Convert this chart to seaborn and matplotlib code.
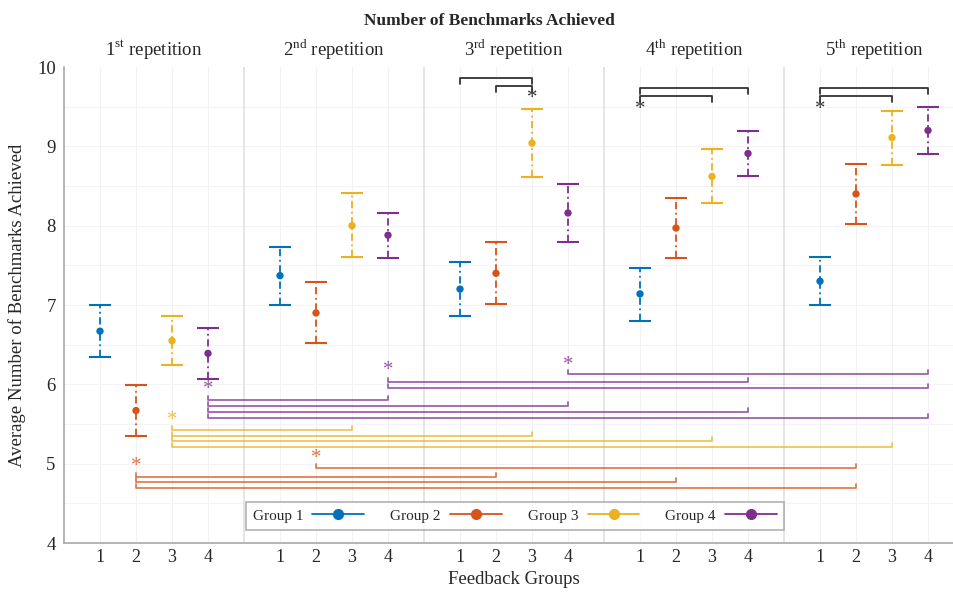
"""
Number of benchmarks achieved per feedback group over five repetitions
"""

import matplotlib
matplotlib.use("Agg")
import matplotlib.pyplot as plt
from matplotlib.lines import Line2D
import numpy as np
import pandas as pd
import seaborn as sns

sns.set_theme(style="white")
plt.rcParams["font.family"] = ["Liberation Serif", "DejaVu Serif"]
plt.rcParams["mathtext.fontset"] = "custom"
plt.rcParams["mathtext.rm"] = "Liberation Serif"

groups = ["Group 1", "Group 2", "Group 3", "Group 4"]
repetitions = [r"1$^{\mathrm{st}}$ repetition", r"2$^{\mathrm{nd}}$ repetition",
               r"3$^{\mathrm{rd}}$ repetition", r"4$^{\mathrm{th}}$ repetition",
               r"5$^{\mathrm{th}}$ repetition"]
tick_labels = ["1", "2", "3", "4"]

g1_mean = [6.67, 7.37, 7.20, 7.14, 7.30]
g1_low = [6.34, 7.00, 6.86, 6.80, 7.00]
g1_high = [7.00, 7.73, 7.54, 7.47, 7.61]
g2_mean = [5.67, 6.90, 7.40, 7.97, 8.40]
g2_low = [5.35, 6.52, 7.01, 7.59, 8.02]
g2_high = [5.99, 7.29, 7.79, 8.35, 8.78]
g3_mean = [6.55, 8.00, 9.04, 8.62, 9.11]
g3_low = [6.24, 7.60, 8.61, 8.28, 8.77]
g3_high = [6.86, 8.41, 9.47, 8.97, 9.45]
g4_mean = [6.39, 7.88, 8.16, 8.91, 9.20]
g4_low = [6.07, 7.59, 7.80, 8.63, 8.90]
g4_high = [6.71, 8.16, 8.53, 9.19, 9.50]

# same group, different repetitions: (group, rep from, rep to, bracket height)
across_reps = [
    (4, 1, 2, 5.80), (4, 1, 3, 5.725), (4, 1, 4, 5.65), (4, 1, 5, 5.57),
    (4, 2, 4, 6.03), (4, 2, 5, 5.95),
    (4, 3, 5, 6.13),
    (3, 1, 2, 5.42), (3, 1, 3, 5.35), (3, 1, 4, 5.28), (3, 1, 5, 5.21),
    (2, 1, 3, 4.83), (2, 1, 4, 4.77), (2, 1, 5, 4.69),
    (2, 2, 5, 4.94),
]
across_stars = [(4, 1, 5.93), (4, 2, 6.17), (4, 3, 6.24), (3, 1, 5.55), (2, 1, 4.96), (2, 2, 5.06)]

# same repetition, different groups: (rep, group from, group to, bracket height)
within_reps = [
    (3, 1, 3, 9.86), (3, 2, 3, 9.76),
    (4, 1, 4, 9.735), (4, 1, 3, 9.63),
    (5, 1, 4, 9.735), (5, 1, 3, 9.63),
]
within_stars = [(3, 3, 9.60), (4, 1, 9.46), (5, 1, 9.46)]

colors = ["#0072BD", "#D95319", "#EDB120", "#7E2F8E"]


def pos(rep, grp):
    return (rep - 1) * 5 + grp


rows = []
for gi, (m, lo, hi) in enumerate([(g1_mean, g1_low, g1_high), (g2_mean, g2_low, g2_high),
                                  (g3_mean, g3_low, g3_high), (g4_mean, g4_low, g4_high)]):
    for ri in range(5):
        rows.append({"group": groups[gi], "rep": ri + 1, "x": pos(ri + 1, gi + 1),
                     "mean": m[ri], "low": lo[ri], "high": hi[ri]})
data = pd.DataFrame(rows)

fig = plt.figure(figsize=(9.54, 5.94), dpi=100)
ax = fig.add_axes([64 / 954, 51 / 594, 900 / 954, 476 / 594])

for gi, g in enumerate(groups):
    d = data[data["group"] == g]
    eb = ax.errorbar(d["x"], d["mean"], yerr=[d["mean"] - d["low"], d["high"] - d["mean"]],
                     fmt="none", ecolor=colors[gi], elinewidth=1.3, capsize=8, capthick=1.5, zorder=3)
    eb[2][0].set_linestyle((0, (4, 2, 1, 2)))
sns.scatterplot(data=data, x="x", y="mean", hue="group", palette=colors, s=28,
                edgecolor="none", legend=False, ax=ax, zorder=4)

# significance brackets between repetitions
for grp, r0, r1, h in across_reps:
    x0, x1 = pos(r0, grp), pos(r1, grp)
    ax.plot([x0, x0, x1, x1], [h + 0.05, h, h, h + 0.05], color=colors[grp - 1],
            lw=1.3, alpha=0.75, zorder=2)
for grp, r0, h in across_stars:
    ax.text(pos(r0, grp), h, "*", color=colors[grp - 1], alpha=0.8, fontsize=15,
            ha="center", va="center")

for rep, g0, g1, h in within_reps:
    x0, x1 = pos(rep, g0), pos(rep, g1)
    ax.plot([x0, x0, x1, x1], [h - 0.07, h, h, h - 0.07], color="#333333", lw=1.3, zorder=2)
for rep, grp, h in within_stars:
    ax.text(pos(rep, grp), h, "*", color="#333333", fontsize=15, ha="center", va="center")

ax.set_xlim(0, 25)
ax.set_ylim(4, 10)
xt = [pos(r, g) for r in range(1, 6) for g in range(1, 5)]
ax.set_xticks(xt)
ax.set_xticklabels(tick_labels * 5, fontsize=13)
ax.set_yticks(range(4, 11))
ax.set_yticklabels([str(v) for v in range(4, 11)], fontsize=13.5)
ax.tick_params(axis="both", direction="in", length=5, color="#b0b0b0", pad=6)
ax.tick_params(axis="x", pad=4)

for x in xt:
    ax.axvline(x, color="#f2f2f2", lw=0.8, zorder=0)
for y in np.arange(4.5, 10, 0.5):
    ax.axhline(y, color="#f4f4f4", lw=0.8, zorder=0)
for s in [5, 10, 15, 20]:
    ax.axvline(s, color="#e0e0e0", lw=1.2, zorder=1)

for side in ["top", "right"]:
    ax.spines[side].set_visible(False)
for side in ["left", "bottom"]:
    ax.spines[side].set_color("#a8a8a8")
    ax.spines[side].set_linewidth(1.2)

for ri, lab in enumerate(repetitions):
    ax.text(pos(ri + 1, 2.5), 10.06, lab, ha="center", va="bottom", fontsize=13.5)

fig.text(0.513, 0.965, "Number of Benchmarks Achieved", ha="center", va="center",
         fontsize=12.5, fontweight="bold")
ax.set_ylabel("Average Number of Benchmarks Achieved", fontsize=13.5, labelpad=8)
ax.set_xlabel("Feedback Groups", fontsize=13.5, labelpad=4)

handles = [Line2D([0], [0], color=c, lw=1.3, marker="o", markersize=7) for c in colors]
leg = ax.legend(handles, groups, loc="center", bbox_to_anchor=(0.501, 0.057), ncol=4,
                markerfirst=False, handlelength=3.4, columnspacing=1.7, handletextpad=0.6,
                fontsize=11, frameon=True, fancybox=False, borderpad=0.45, borderaxespad=0)
leg.get_frame().set_edgecolor("#a0a0a0")
leg.get_frame().set_linewidth(1.2)

fig.savefig("out.png", dpi=100)
